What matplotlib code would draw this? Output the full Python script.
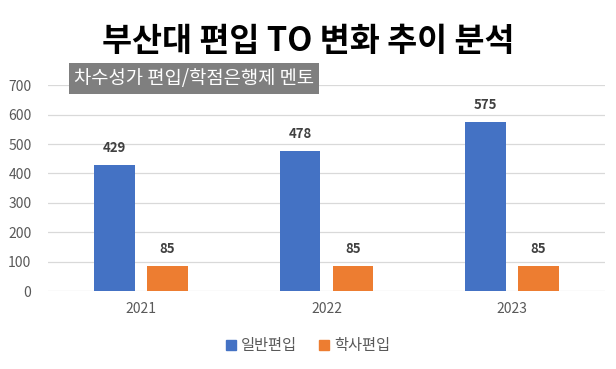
import matplotlib
matplotlib.use("Agg")
import matplotlib.pyplot as plt
from matplotlib.patches import Patch
import numpy as np

plt.rcParams['font.family'] = ['Noto Sans CJK KR', 'DejaVu Sans']

years = ["2021", "2022", "2023"]
general = [429, 478, 575]
bachelor = [85, 85, 85]
series_names = ["일반편입", "학사편입"]
colors = ["#4472c4", "#ed7d31"]
text_gray = "#595959"

fig = plt.figure(figsize=(6.16, 3.69), dpi=100)
ax = fig.add_axes([0.078, 0.211, 0.904, 0.558])

x = np.arange(len(years))
w = 0.22
b1 = ax.bar(x - 0.143, general, w, color=colors[0])
b2 = ax.bar(x + 0.143, bachelor, w, color=colors[1])

for bars in (b1, b2):
    for r in bars:
        ax.annotate(f"{int(r.get_height())}", (r.get_x() + r.get_width() / 2, r.get_height()),
                    xytext=(0, 7), textcoords="offset points", ha="center", va="bottom",
                    fontsize=9.5, fontweight="bold", color="#404040")

ax.set_xlim(-0.5, 2.5)
ax.set_ylim(0, 700)
ax.set_yticks(range(0, 701, 100))
ax.set_xticks(x)
ax.set_xticklabels(years)
ax.grid(axis="y", color="#d9d9d9", linewidth=0.9)
ax.set_axisbelow(True)
for s in ax.spines.values():
    s.set_visible(False)
ax.tick_params(length=0, colors=text_gray, labelsize=10)
ax.tick_params(axis="y", pad=12)
ax.tick_params(axis="x", pad=8)

fig.text(0.5, 0.887, "부산대 편입 TO 변화 추이 분석", ha="center", va="center",
         fontsize=23.5, fontweight="bold", color="black")
fig.text(0.12, 0.787, "차수성가 편입/학점은행제 멘토", ha="left", va="center",
         fontsize=13.5, fontweight="medium", color="white",
         bbox=dict(boxstyle="square,pad=0.25", facecolor="#7f7f7f", edgecolor="none"))

handles = [Patch(color=c) for c in colors]
fig.legend(handles, series_names, loc="center", bbox_to_anchor=(0.5, 0.063), ncol=2,
           frameon=False, fontsize=11, labelcolor=text_gray,
           handlelength=0.65, handleheight=0.65, handletextpad=0.3, columnspacing=1.5)

fig.savefig("out.png", dpi=100)
